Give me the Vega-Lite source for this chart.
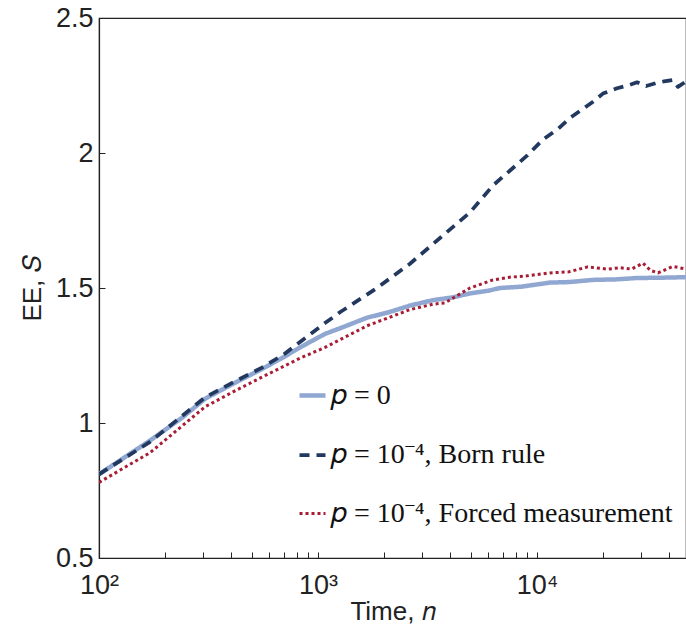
{
  "$schema": "https://vega.github.io/schema/vega-lite/v6.json",
  "width": 587,
  "height": 540,
  "autosize": {"type": "none"},
  "padding": {"left": 99, "top": 18, "right": 0, "bottom": 79},
  "background": "white",
  "config": {
    "view": {"stroke": "#222222", "strokeWidth": 1.2},
    "axis": {"domainColor": "#222222", "tickColor": "#222222", "labelColor": "#222222", "titleColor": "#222222", "grid": false, "labelFont": "Liberation Sans", "titleFont": "Liberation Sans", "labelFontSize": 27, "titleFontSize": 26, "titleFontWeight": "normal", "tickSize": -6, "domainWidth": 1.2, "tickWidth": 1}
  },
  "data": {"values": [
    {"s": "p = 0", "n": 100, "v": 0.81},
    {"s": "p = 0", "n": 171, "v": 0.935},
    {"s": "p = 0", "n": 240, "v": 1.02},
    {"s": "p = 0", "n": 305, "v": 1.09},
    {"s": "p = 0", "n": 420, "v": 1.15},
    {"s": "p = 0", "n": 555, "v": 1.2},
    {"s": "p = 0", "n": 700, "v": 1.245},
    {"s": "p = 0", "n": 828, "v": 1.28},
    {"s": "p = 0", "n": 1076, "v": 1.33},
    {"s": "p = 0", "n": 1300, "v": 1.355},
    {"s": "p = 0", "n": 1675, "v": 1.39},
    {"s": "p = 0", "n": 2100, "v": 1.41},
    {"s": "p = 0", "n": 2630, "v": 1.435},
    {"s": "p = 0", "n": 3350, "v": 1.455},
    {"s": "p = 0", "n": 4100, "v": 1.465},
    {"s": "p = 0", "n": 4943, "v": 1.48},
    {"s": "p = 0", "n": 6000, "v": 1.49},
    {"s": "p = 0", "n": 6776, "v": 1.5},
    {"s": "p = 0", "n": 8500, "v": 1.505},
    {"s": "p = 0", "n": 11460, "v": 1.52},
    {"s": "p = 0", "n": 14000, "v": 1.522},
    {"s": "p = 0", "n": 18000, "v": 1.53},
    {"s": "p = 0", "n": 23000, "v": 1.532},
    {"s": "p = 0", "n": 28600, "v": 1.537},
    {"s": "p = 0", "n": 36000, "v": 1.538},
    {"s": "p = 0", "n": 47900, "v": 1.54},
    {"s": "p = 10⁻⁴, Born rule", "n": 100, "v": 0.81},
    {"s": "p = 10⁻⁴, Born rule", "n": 171, "v": 0.93},
    {"s": "p = 10⁻⁴, Born rule", "n": 305, "v": 1.095},
    {"s": "p = 10⁻⁴, Born rule", "n": 420, "v": 1.155},
    {"s": "p = 10⁻⁴, Born rule", "n": 555, "v": 1.205},
    {"s": "p = 10⁻⁴, Born rule", "n": 700, "v": 1.255},
    {"s": "p = 10⁻⁴, Born rule", "n": 828, "v": 1.3},
    {"s": "p = 10⁻⁴, Born rule", "n": 1076, "v": 1.37},
    {"s": "p = 10⁻⁴, Born rule", "n": 1259, "v": 1.41},
    {"s": "p = 10⁻⁴, Born rule", "n": 1859, "v": 1.5},
    {"s": "p = 10⁻⁴, Born rule", "n": 2630, "v": 1.59},
    {"s": "p = 10⁻⁴, Born rule", "n": 3606, "v": 1.685},
    {"s": "p = 10⁻⁴, Born rule", "n": 4943, "v": 1.78},
    {"s": "p = 10⁻⁴, Born rule", "n": 6295, "v": 1.88},
    {"s": "p = 10⁻⁴, Born rule", "n": 9000, "v": 1.99},
    {"s": "p = 10⁻⁴, Born rule", "n": 10650, "v": 2.05},
    {"s": "p = 10⁻⁴, Born rule", "n": 12500, "v": 2.09},
    {"s": "p = 10⁻⁴, Born rule", "n": 14150, "v": 2.13},
    {"s": "p = 10⁻⁴, Born rule", "n": 16000, "v": 2.16},
    {"s": "p = 10⁻⁴, Born rule", "n": 18020, "v": 2.19},
    {"s": "p = 10⁻⁴, Born rule", "n": 20000, "v": 2.22},
    {"s": "p = 10⁻⁴, Born rule", "n": 23180, "v": 2.24},
    {"s": "p = 10⁻⁴, Born rule", "n": 26000, "v": 2.25},
    {"s": "p = 10⁻⁴, Born rule", "n": 28630, "v": 2.262},
    {"s": "p = 10⁻⁴, Born rule", "n": 31500, "v": 2.248},
    {"s": "p = 10⁻⁴, Born rule", "n": 35320, "v": 2.26},
    {"s": "p = 10⁻⁴, Born rule", "n": 38000, "v": 2.265},
    {"s": "p = 10⁻⁴, Born rule", "n": 41780, "v": 2.27},
    {"s": "p = 10⁻⁴, Born rule", "n": 44000, "v": 2.245},
    {"s": "p = 10⁻⁴, Born rule", "n": 47900, "v": 2.265},
    {"s": "p = 10⁻⁴, Forced measurement", "n": 100, "v": 0.78},
    {"s": "p = 10⁻⁴, Forced measurement", "n": 171, "v": 0.89},
    {"s": "p = 10⁻⁴, Forced measurement", "n": 305, "v": 1.06},
    {"s": "p = 10⁻⁴, Forced measurement", "n": 420, "v": 1.12},
    {"s": "p = 10⁻⁴, Forced measurement", "n": 555, "v": 1.17},
    {"s": "p = 10⁻⁴, Forced measurement", "n": 828, "v": 1.24},
    {"s": "p = 10⁻⁴, Forced measurement", "n": 1076, "v": 1.28},
    {"s": "p = 10⁻⁴, Forced measurement", "n": 1675, "v": 1.36},
    {"s": "p = 10⁻⁴, Forced measurement", "n": 2630, "v": 1.42},
    {"s": "p = 10⁻⁴, Forced measurement", "n": 3350, "v": 1.44},
    {"s": "p = 10⁻⁴, Forced measurement", "n": 3800, "v": 1.445},
    {"s": "p = 10⁻⁴, Forced measurement", "n": 4943, "v": 1.5},
    {"s": "p = 10⁻⁴, Forced measurement", "n": 6295, "v": 1.53},
    {"s": "p = 10⁻⁴, Forced measurement", "n": 7500, "v": 1.54},
    {"s": "p = 10⁻⁴, Forced measurement", "n": 9000, "v": 1.545},
    {"s": "p = 10⁻⁴, Forced measurement", "n": 11460, "v": 1.556},
    {"s": "p = 10⁻⁴, Forced measurement", "n": 14000, "v": 1.56},
    {"s": "p = 10⁻⁴, Forced measurement", "n": 17000, "v": 1.578},
    {"s": "p = 10⁻⁴, Forced measurement", "n": 21000, "v": 1.57},
    {"s": "p = 10⁻⁴, Forced measurement", "n": 24000, "v": 1.575},
    {"s": "p = 10⁻⁴, Forced measurement", "n": 27000, "v": 1.57},
    {"s": "p = 10⁻⁴, Forced measurement", "n": 30480, "v": 1.592},
    {"s": "p = 10⁻⁴, Forced measurement", "n": 33000, "v": 1.565},
    {"s": "p = 10⁻⁴, Forced measurement", "n": 35700, "v": 1.556},
    {"s": "p = 10⁻⁴, Forced measurement", "n": 41780, "v": 1.58},
    {"s": "p = 10⁻⁴, Forced measurement", "n": 47900, "v": 1.57}
  ]},
  "mark": {"type": "line", "clip": true, "strokeCap": "butt", "strokeJoin": "round"},
  "encoding": {
    "x": {
      "field": "n", "type": "quantitative",
      "scale": {"type": "log", "domain": [100, 47900], "nice": false},
      "axis": {
        "title": "Time,  𝑛", "titlePadding": 0,
        "values": [100, 200, 300, 400, 500, 600, 700, 800, 900, 1000, 2000, 3000, 4000, 5000, 6000, 7000, 8000, 9000, 10000, 20000, 30000, 40000],
        "labelExpr": "datum.value == 100 ? '10²' : datum.value == 1000 ? '10³' : datum.value == 10000 ? '10⁴' : ''",
        "labelPadding": 20, "labelFlush": false, "labelOverlap": false
      }
    },
    "y": {
      "field": "v", "type": "quantitative",
      "scale": {"domain": [0.5, 2.5], "nice": false, "zero": false},
      "axis": {
        "title": "EE,  𝑆", "titlePadding": 10, "format": "~g",
        "values": [0.5, 1, 1.5, 2, 2.5],
        "labelPadding": 12, "labelFlush": false, "labelOverlap": false
      }
    },
    "color": {
      "field": "s", "type": "nominal",
      "scale": {"domain": ["p = 0", "p = 10⁻⁴, Born rule", "p = 10⁻⁴, Forced measurement"], "range": ["#8FA7D1", "#22385F", "#A81C34"]},
      "legend": {
        "orient": "none", "legendX": 198, "legendY": 362, "title": null,
        "symbolType": "stroke", "symbolSize": 676, "symbolStrokeWidth": 3.5,
        "labelFont": "Liberation Serif", "labelFontSize": 28, "labelColor": "#111111",
        "rowPadding": 30, "labelOffset": 3, "labelLimit": 450,
        "labelExpr": "replace(replace(datum.label, 'p = ', '𝑝 = '), ', ', ',  ')"
      }
    },
    "strokeDash": {
      "field": "s", "type": "nominal",
      "scale": {"domain": ["p = 0", "p = 10⁻⁴, Born rule", "p = 10⁻⁴, Forced measurement"], "range": [[1, 0], [10, 7], [3, 3]]},
      "legend": {
        "orient": "none", "legendX": 198, "legendY": 362, "title": null,
        "symbolType": "stroke", "symbolSize": 676, "symbolStrokeWidth": 3.5,
        "labelFont": "Liberation Serif", "labelFontSize": 28, "labelColor": "#111111",
        "rowPadding": 30, "labelOffset": 3, "labelLimit": 450,
        "labelExpr": "replace(replace(datum.label, 'p = ', '𝑝 = '), ', ', ',  ')"
      }
    },
    "strokeWidth": {
      "field": "s", "type": "nominal",
      "scale": {"domain": ["p = 0", "p = 10⁻⁴, Born rule", "p = 10⁻⁴, Forced measurement"], "range": [4.5, 3, 4]},
      "legend": null
    }
  }
}
